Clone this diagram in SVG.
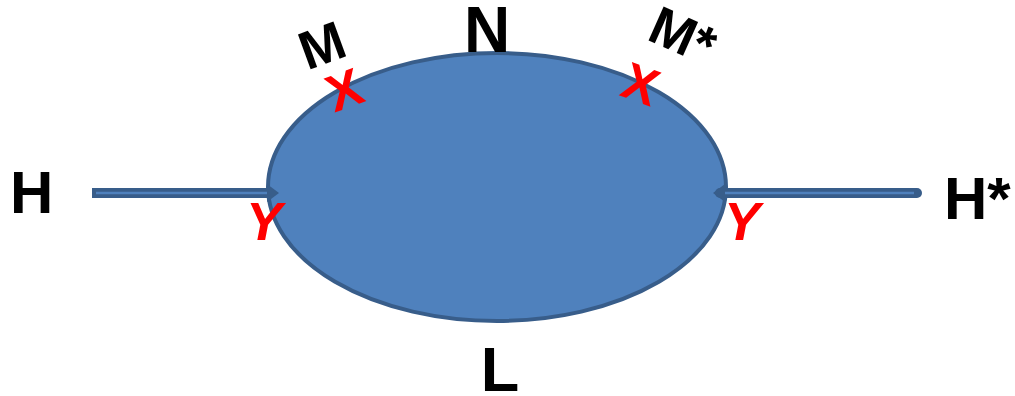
<svg xmlns="http://www.w3.org/2000/svg" width="1015" height="396" viewBox="0 0 1015 396">
<style>
.lbl{font-family:"Liberation Sans",Arial,sans-serif;font-weight:bold;fill:#000}
.red{font-family:"Liberation Sans",Arial,sans-serif;font-weight:bold;fill:#FF0000}
.shaft{stroke:#385D8A;stroke-width:10;fill:none}
.core{stroke:#4F81BD;stroke-width:2.5;fill:none}
</style>
<rect width="1015" height="396" fill="#fff"/>
<g id="ellipse">
<ellipse cx="497" cy="187" rx="229" ry="134" fill="#4F81BD" stroke="#385D8A" stroke-width="4"/>
</g>
<g id="connectors">
<path class="shaft" d="M92 193 H272"/>
<path class="core" d="M96 193 H272"/>
<path d="M267 184 L279 193 L267 202 Z" fill="#385D8A"/>
<path class="shaft" d="M917 193 H720" stroke-linecap="round"/>
<path class="core" d="M914 193 H720"/>
<path d="M725 184 L713 193 L725 202 Z" fill="#385D8A"/>
</g>
<g id="label-H"><text class="lbl" x="10" y="213" font-size="60">H</text></g>
<g id="label-Hstar"><text class="lbl" x="944" y="219" font-size="60">H*</text></g>
<g id="label-N"><text class="lbl" x="487" y="52" font-size="64" text-anchor="middle">N</text></g>
<g id="label-L"><text class="lbl" x="500" y="391" font-size="63" text-anchor="middle">L</text></g>
<g id="label-M"><text class="lbl" font-size="54" text-anchor="middle" transform="translate(322,45) rotate(-20)" y="19">M</text></g>
<g id="label-Mstar"><text class="lbl" font-size="54" text-anchor="middle" transform="translate(683,35) rotate(24)" y="19">M*</text></g>
<g id="mark-X1"><text class="red" font-size="52" text-anchor="middle" transform="translate(344,89) rotate(-20)" y="19">X</text></g>
<g id="mark-X2"><text class="red" font-size="52" text-anchor="middle" transform="translate(641,83) rotate(20)" y="19">X</text></g>
<g id="mark-Y1"><text class="red" font-size="54" font-style="italic" x="264" y="240" text-anchor="middle">Y</text></g>
<g id="mark-Y2"><text class="red" font-size="54" font-style="italic" x="742" y="240" text-anchor="middle">Y</text></g>
</svg>
